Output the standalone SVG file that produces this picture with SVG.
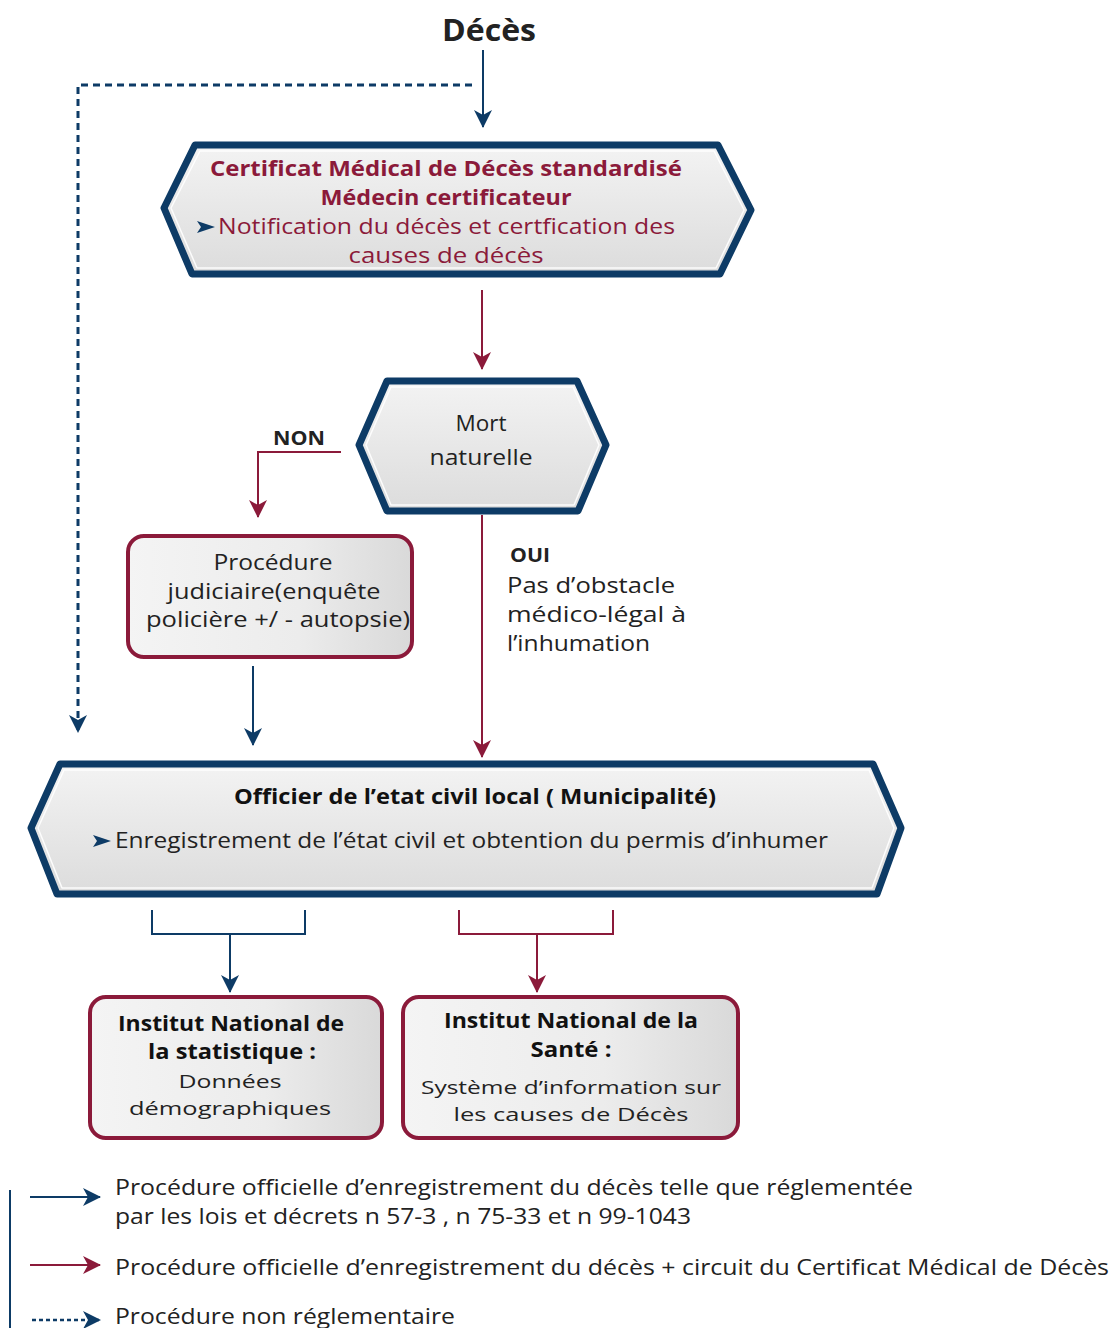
<svg xmlns="http://www.w3.org/2000/svg" width="1114" height="1328" viewBox="0 0 1114 1328">
<defs>
<linearGradient id="g" x1="0" y1="0" x2="0" y2="1">
<stop offset="0" stop-color="#f3f3f3"/>
<stop offset="1" stop-color="#dcdcdc"/>
</linearGradient>
<linearGradient id="gh" x1="0" y1="0" x2="1" y2="0">
<stop offset="0" stop-color="#f4f4f4"/>
<stop offset="0.6" stop-color="#ececec"/>
<stop offset="1" stop-color="#d9d9d9"/>
</linearGradient>
<marker id="anb" markerWidth="18" markerHeight="18" viewBox="0 0 18 18" refX="17" refY="9" orient="auto" markerUnits="userSpaceOnUse">
<path d="M0,0 L18,9 L0,18 L5,9 Z" fill="#0d3b66"/>
</marker>
<marker id="amb" markerWidth="18" markerHeight="18" viewBox="0 0 18 18" refX="17" refY="9" orient="auto" markerUnits="userSpaceOnUse">
<path d="M0,0 L18,9 L0,18 L5,9 Z" fill="#8b1a3a"/>
</marker>
</defs>
<style>
.t{font-family:"Open Sans","Liberation Sans",sans-serif;}
.b{font-weight:700;}
.nv{stroke:#0d3b66;fill:none;stroke-width:2;}
.mr{stroke:#8b1a3a;fill:none;stroke-width:2;}
.dt{stroke:#0d3b66;fill:none;stroke-width:3;stroke-dasharray:7,5;}
.hex{fill:url(#g);stroke:#0d3b66;stroke-width:7;stroke-linejoin:round;}
.hexi{fill:none;stroke:#ffffff;stroke-width:1.5;stroke-linejoin:round;opacity:0.9;}
.box{fill:url(#gh);stroke:#8b1a3a;stroke-width:4;}
</style>
<rect width="1114" height="1328" fill="#ffffff"/>

<g id="connectors">
<line class="nv" x1="483" y1="50" x2="483" y2="127" marker-end="url(#anb)"/>
<path class="dt" d="M472,85 H78 V732" marker-end="url(#anb)"/>
<line class="mr" x1="482" y1="290" x2="482" y2="369" marker-end="url(#amb)"/>
<path class="mr" d="M341,452 H258 V517" marker-end="url(#amb)"/>
<line class="nv" x1="253" y1="666" x2="253" y2="745" marker-end="url(#anb)"/>
<line class="mr" x1="482" y1="515" x2="482" y2="757" marker-end="url(#amb)"/>
<path class="nv" d="M152,910 V934 H305 V910 M230,934 V960"/>
<line class="nv" x1="230" y1="958" x2="230" y2="992" marker-end="url(#anb)"/>
<path class="mr" d="M459,910 V934 H613 V910 M537,934 V960"/>
<line class="mr" x1="537" y1="958" x2="537" y2="992" marker-end="url(#amb)"/>
</g>

<g id="deces">
<text class="t b" x="489" y="41" font-size="30" text-anchor="middle" fill="#222" textLength="94" lengthAdjust="spacingAndGlyphs">Décès</text>
</g>

<g id="certificat">
<path class="hex" d="M195,145 H718 L751,210 L720,274 H192 L164,208 Z"/>
<path class="hexi" d="M200,151 H714 L744,210 L716,268 H197 L171,208 Z"/>
<text class="t b" x="446" y="176" font-size="22" text-anchor="middle" fill="#8b1a3a" textLength="472" lengthAdjust="spacingAndGlyphs">Certificat Médical de Décès standardisé</text>
<text class="t b" x="446" y="205" font-size="22" text-anchor="middle" fill="#8b1a3a" textLength="251" lengthAdjust="spacingAndGlyphs">Médecin certificateur</text>
<path d="M197,221 L215,227 L197,233 L201,227 Z" fill="#0d3b66"/>
<text class="t" x="218" y="234" font-size="22" fill="#8b1a3a" textLength="457" lengthAdjust="spacingAndGlyphs">Notification du décès et certfication des</text>
<text class="t" x="446" y="263" font-size="22" text-anchor="middle" fill="#8b1a3a" textLength="195" lengthAdjust="spacingAndGlyphs">causes de décès</text>
</g>

<g id="mort">
<path class="hex" d="M387,381 H577 L606,445 L578,511 H387 L359,445 Z"/>
<path class="hexi" d="M391,387 H573 L599,445 L574,505 H391 L366,445 Z"/>
<text class="t" x="481" y="431" font-size="22" text-anchor="middle" fill="#222" textLength="51" lengthAdjust="spacingAndGlyphs">Mort</text>
<text class="t" x="481" y="465" font-size="22" text-anchor="middle" fill="#222" textLength="103" lengthAdjust="spacingAndGlyphs">naturelle</text>
</g>

<g id="non">
<text class="t b" x="299" y="445" font-size="20" text-anchor="middle" fill="#222" textLength="52" lengthAdjust="spacingAndGlyphs">NON</text>
</g>

<g id="procedure">
<rect class="box" x="128" y="536" width="284" height="121" rx="16"/>
<text class="t" x="273" y="570" font-size="22" text-anchor="middle" fill="#222" textLength="119" lengthAdjust="spacingAndGlyphs">Procédure</text>
<text class="t" x="274" y="599" font-size="22" text-anchor="middle" fill="#222" textLength="213" lengthAdjust="spacingAndGlyphs">judiciaire(enquête</text>
<text class="t" x="278" y="627" font-size="22" text-anchor="middle" fill="#222" textLength="264" lengthAdjust="spacingAndGlyphs">policière +/ - autopsie)</text>
</g>

<g id="oui">
<text class="t b" x="510" y="562" font-size="20" fill="#222" textLength="40" lengthAdjust="spacingAndGlyphs">OUI</text>
<text class="t" x="507" y="593" font-size="22" fill="#222" textLength="168" lengthAdjust="spacingAndGlyphs">Pas d’obstacle</text>
<text class="t" x="507" y="622" font-size="22" fill="#222" textLength="179" lengthAdjust="spacingAndGlyphs">médico-légal à</text>
<text class="t" x="507" y="651" font-size="22" fill="#222" textLength="143" lengthAdjust="spacingAndGlyphs">l’inhumation</text>
</g>

<g id="officier">
<path class="hex" d="M60,764 H873 L901,828 L877,894 H57 L31,828 Z"/>
<path class="hexi" d="M64,770 H869 L894,828 L872,888 H62 L38,828 Z"/>
<text class="t b" x="475" y="804" font-size="22" text-anchor="middle" fill="#111" textLength="482" lengthAdjust="spacingAndGlyphs">Officier de l’etat civil local ( Municipalité)</text>
<path d="M93,835 L111,841 L93,847 L97,841 Z" fill="#0d3b66"/>
<text class="t" x="115" y="848" font-size="22" fill="#222" textLength="713" lengthAdjust="spacingAndGlyphs">Enregistrement de l’état civil et obtention du permis d’inhumer</text>
</g>

<g id="ins">
<rect class="box" x="90" y="997" width="292" height="141" rx="16"/>
<text class="t b" x="231" y="1031" font-size="22" text-anchor="middle" fill="#111" textLength="226" lengthAdjust="spacingAndGlyphs">Institut National de</text>
<text class="t b" x="232" y="1059" font-size="22" text-anchor="middle" fill="#111" textLength="168" lengthAdjust="spacingAndGlyphs">la statistique :</text>
<text class="t" x="230" y="1088" font-size="19" text-anchor="middle" fill="#222" textLength="103" lengthAdjust="spacingAndGlyphs">Données</text>
<text class="t" x="230" y="1115" font-size="19" text-anchor="middle" fill="#222" textLength="202" lengthAdjust="spacingAndGlyphs">démographiques</text>
</g>

<g id="insante">
<rect class="box" x="403" y="997" width="335" height="141" rx="16"/>
<text class="t b" x="571" y="1028" font-size="22" text-anchor="middle" fill="#111" textLength="254" lengthAdjust="spacingAndGlyphs">Institut National de la</text>
<text class="t b" x="571" y="1057" font-size="22" text-anchor="middle" fill="#111" textLength="81" lengthAdjust="spacingAndGlyphs">Santé :</text>
<text class="t" x="571" y="1094" font-size="19" text-anchor="middle" fill="#222" textLength="300" lengthAdjust="spacingAndGlyphs">Système d’information sur</text>
<text class="t" x="571" y="1121" font-size="19" text-anchor="middle" fill="#222" textLength="235" lengthAdjust="spacingAndGlyphs">les causes de Décès</text>
</g>

<g id="legend">
<line x1="10" y1="1190" x2="10" y2="1328" stroke="#0d3b66" stroke-width="2"/>
<line class="nv" x1="30" y1="1197" x2="100" y2="1197" marker-end="url(#anb)"/>
<text class="t" x="115" y="1195" font-size="22" fill="#222" textLength="798" lengthAdjust="spacingAndGlyphs">Procédure officielle d’enregistrement du décès telle que réglementée</text>
<text class="t" x="115" y="1224" font-size="22" fill="#222" textLength="576" lengthAdjust="spacingAndGlyphs">par les lois et décrets n 57-3 , n 75-33 et n 99-1043</text>
<line class="mr" x1="30" y1="1265" x2="100" y2="1265" marker-end="url(#amb)"/>
<text class="t" x="115" y="1275" font-size="22" fill="#222" textLength="994" lengthAdjust="spacingAndGlyphs">Procédure officielle d’enregistrement du décès + circuit du Certificat Médical de Décès</text>
<line class="dt" x1="32" y1="1320" x2="100" y2="1320" style="stroke-width:2.5;stroke-dasharray:4,3" marker-end="url(#anb)"/>
<text class="t" x="115" y="1324" font-size="22" fill="#222" textLength="340" lengthAdjust="spacingAndGlyphs">Procédure non réglementaire</text>
</g>
</svg>
